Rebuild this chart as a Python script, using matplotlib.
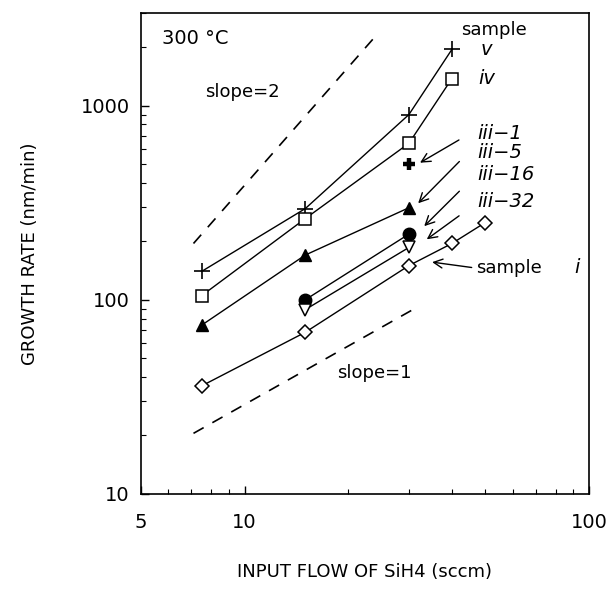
import matplotlib.pyplot as plt

plt.rcParams['font.family'] = ['DejaVu Sans']

# data: SiH4 flow (sccm) vs growth rate (nm/min)
flow_v = [7.5, 15, 30, 40]
rate_v = [140, 295, 900, 1950]
flow_iv = [7.5, 15, 30, 40]
rate_iv = [105, 262, 640, 1380]
flow_iii1 = [30]
rate_iii1 = [500]
flow_iii5 = [7.5, 15, 30]
rate_iii5 = [74, 170, 298]
flow_iii16 = [15, 30]
rate_iii16 = [100, 218]
flow_iii32 = [15, 30]
rate_iii32 = [89, 186]
flow_i = [7.5, 15, 30, 40, 50]
rate_i = [36, 68, 150, 195, 250]

# reference slopes (dashed)
slope2_flow = [7.1, 24.3]
slope2_rate = [195, 2340]
slope1_flow = [7.1, 31.5]
slope1_rate = [20.5, 91]

fig = plt.figure(figsize=(6.16, 5.95), dpi=100)
ax = fig.add_axes([0.229, 0.170, 0.727, 0.808])

ln = dict(color='black', lw=1.0)
ax.plot(flow_v, rate_v, marker='+', ms=12, mew=1.2, **ln)
ax.plot(flow_iv, rate_iv, marker='s', ms=9, mfc='white', mec='black', mew=1.1, **ln)
ax.plot(flow_iii1, rate_iii1, marker='+', ms=9, mew=3.2, ls='none', color='black')
ax.plot(flow_iii5, rate_iii5, marker='^', ms=9, mfc='black', mec='black', **ln)
ax.plot(flow_iii16, rate_iii16, marker='o', ms=9, mfc='black', mec='black', **ln)
ax.plot(flow_iii32, rate_iii32, marker='v', ms=9, mfc='white', mec='black', mew=1.1, **ln)
ax.plot(flow_i, rate_i, marker='D', ms=7, mfc='white', mec='black', mew=1.1, **ln)

ax.plot(slope2_flow, slope2_rate, ls=(0, (7, 6)), color='black', lw=1.2)
ax.plot(slope1_flow, slope1_rate, ls=(0, (7, 6)), color='black', lw=1.2)

ax.set_xscale('log')
ax.set_yscale('log')
ax.set_xlim(5, 100)
ax.set_ylim(10, 3000)
ax.set_xticks([5, 10, 100])
ax.set_xticklabels(['5', '10', '100'])
ax.set_yticks([10, 100, 1000])
ax.set_yticklabels(['10', '100', '1000'])
ax.tick_params(which='both', direction='in', top=False, right=False, labelsize=14)
ax.tick_params(which='major', length=6, width=1.0)
ax.tick_params(which='minor', length=3.5, width=0.8)
ax.tick_params(axis='x', pad=14)
ax.tick_params(axis='y', pad=8)
for s in ax.spines.values():
    s.set_linewidth(1.2)

ax.set_xlabel('INPUT FLOW OF SiH4 (sccm)', fontsize=13, labelpad=22)
ax.set_ylabel('GROWTH RATE (nm/min)', fontsize=13, labelpad=30)

txt = dict(fontsize=14, va='center', ha='left')
ax.text(5.76, 2210, '300 \u00b0C', **txt)
ax.text(7.67, 1180, 'slope=2', fontsize=13, va='center', ha='left')
ax.text(18.6, 41.7, 'slope=1', fontsize=13, va='center', ha='left')
ax.text(42.6, 2450, 'sample', fontsize=13, va='center', ha='left')
ax.text(48.6, 1940, 'v', style='italic', **txt)
ax.text(47.6, 1374, 'iv', style='italic', **txt)
ax.text(47.4, 718, 'iii\u22121', style='italic', **txt)
ax.text(47.4, 575, 'iii\u22125', style='italic', **txt)
ax.text(47.4, 443, 'iii\u221216', style='italic', **txt)
ax.text(47.4, 322, 'iii\u221232', style='italic', **txt)
ax.text(47.0, 146, 'sample', fontsize=13, va='center', ha='left')
ax.text(91.0, 146, 'i', style='italic', **txt)

arr = dict(arrowstyle='->', color='black', lw=1.0, mutation_scale=16)
ax.annotate('', xy=(31.8, 500), xytext=(42.6, 677), arrowprops=arr)
ax.annotate('', xy=(31.5, 307), xytext=(42.6, 528), arrowprops=arr)
ax.annotate('', xy=(32.8, 234), xytext=(42.6, 371), arrowprops=arr)
ax.annotate('', xy=(33.3, 201), xytext=(42.6, 276), arrowprops=arr)
ax.annotate('', xy=(34.4, 157), xytext=(46.5, 146), arrowprops=arr)

fig.savefig('out.png', dpi=100)
